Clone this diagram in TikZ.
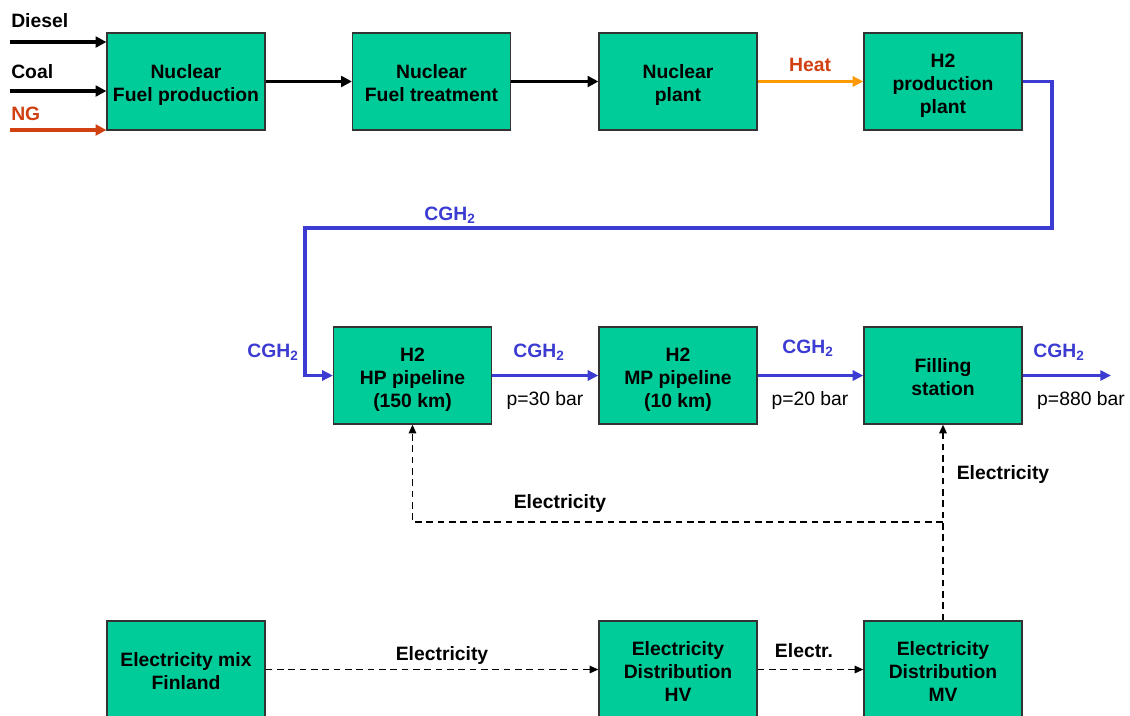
\documentclass[tikz,border=0pt]{standalone}
\usepackage{fontspec}
\setmainfont{Liberation Sans}
\usetikzlibrary{arrows.meta}
\definecolor{boxgreen}{RGB}{0,204,153}
\definecolor{flowblue}{RGB}{60,60,210}
\definecolor{heatorange}{RGB}{255,153,0}
\definecolor{labelred}{RGB}{208,64,16}
\newcommand\boxlines[1]{\raisebox{-3pt}[\height][\depth]{\begin{tabular}{@{}c@{}}#1\end{tabular}}}
\tikzset{
  procbox/.style={draw=black!80, line width=0.9pt, fill=boxgreen, minimum width=118.5pt, minimum height=72.75pt, inner sep=0pt, font=\fontsize{14.5}{17.3}\selectfont\bfseries},
  lbl/.style={font=\fontsize{14.5}{16}\selectfont\bfseries, inner sep=0pt},
  plbl/.style={font=\fontsize{14.5}{16}\selectfont, inner sep=0pt},
  solidflow/.style={line width=2.7pt, -{Triangle[length=8pt,width=8pt]}},
  blueflow/.style={line width=2.5pt, -{Triangle[length=8pt,width=7.5pt]}},
  dashflow/.style={line width=1.2pt, dash pattern=on 5pt off 3.5pt, -{Triangle[length=6.5pt,width=5.5pt]}},
}
\begin{document}
\begin{tikzpicture}[x=0.75pt,y=-0.75pt]
\useasboundingbox (0,0) rectangle (1130,715);
\clip (0,0) rectangle (1130,715);
% boxes
\node[procbox] (fp) at (186,81.5) {\boxlines{Nuclear\\Fuel production}};
\node[procbox] (ft) at (431.5,81.5) {\boxlines{Nuclear\\Fuel treatment}};
\node[procbox] (np) at (678,81.5) {\boxlines{Nuclear\\plant}};
\node[procbox] (h2p) at (943,81.5) {\boxlines{H2\\production\\plant}};
\node[procbox] (hp) at (412.5,375.5) {\boxlines{H2\\HP pipeline\\(150 km)}};
\node[procbox] (mp) at (678,375.5) {\boxlines{H2\\MP pipeline\\(10 km)}};
\node[procbox] (fs) at (943,375.5) {\boxlines{Filling\\station}};
\node[procbox] (mix) at (186,669.5) {\boxlines{Electricity mix\\Finland}};
\node[procbox] (hv) at (678,669.5) {\boxlines{Electricity\\Distribution\\HV}};
\node[procbox] (mv) at (943,669.5) {\boxlines{Electricity\\Distribution\\MV}};
% inputs
\coordinate (dieselin) at (10,42);
\coordinate (coalin) at (10,91);
\coordinate (ngin) at (10,130);
\draw[solidflow, black] (dieselin) -- (dieselin -| fp.west);
\draw[solidflow, black] (coalin) -- (coalin -| fp.west);
\draw[solidflow, labelred] (ngin) -- (ngin -| fp.west);
\node[lbl, anchor=west] (ldiesel) at (11,21) {Diesel};
\node[lbl, anchor=west] (lcoal) at (11,72) {Coal};
\node[lbl, anchor=west, text=labelred] (lng) at (11,114) {NG};
% top chain
\draw[solidflow, black] (fp.east) -- (ft.west);
\draw[solidflow, black] (ft.east) -- (np.west);
\draw[blueflow, heatorange] (np.east) -- (h2p.west);
\node[lbl, text=labelred] (lheat) at (810,65) {Heat};
% CGH2 loop
\coordinate (c1) at (1052,81.5);
\coordinate (c2) at (1052,228);
\coordinate (c3) at (305,228);
\coordinate (c4) at (305,375.5);
\draw[blueflow, flowblue, line join=miter] (h2p.east) -- (c1) -- (c2) -- (c3) -- (c4) -- (hp.west);
\node[lbl, text=flowblue] (lc1) at (450,215) {CGH\textsubscript{2}};
\node[lbl, text=flowblue] (lc2) at (273,352) {CGH\textsubscript{2}};
% pipeline chain
\draw[blueflow, flowblue] (hp.east) -- (mp.west);
\draw[blueflow, flowblue] (mp.east) -- (fs.west);
\coordinate (out) at (1111,375.5);
\draw[blueflow, flowblue] (fs.east) -- (out);
\node[lbl, text=flowblue] (lc3) at (539,352) {CGH\textsubscript{2}};
\node[lbl, text=flowblue] (lc4) at (808,348) {CGH\textsubscript{2}};
\node[lbl, text=flowblue] (lc5) at (1059,352) {CGH\textsubscript{2}};
\node[plbl] (p1) at (545,400) {p=30 bar};
\node[plbl] (p2) at (810,400) {p=20 bar};
\node[plbl] (p3) at (1081,400) {p=880 bar};
% electricity
\draw[dashflow] (mix.east) -- (hv.west);
\draw[dashflow] (hv.east) -- (mv.west);
\node[lbl] (le1) at (442,655) {Electricity};
\node[lbl] (le2) at (804,651) {Electr.};
\draw[dashflow] (mv.north) -- (fs.south);
\coordinate (br) at (943,522);
\coordinate (bl) at (412.5,522);
\draw[dashflow] (br) -- (bl) -- (hp.south);
\node[lbl] (le3) at (1003,474) {Electricity};
\node[lbl] (le4) at (560,503) {Electricity};
\end{tikzpicture}
\end{document}
